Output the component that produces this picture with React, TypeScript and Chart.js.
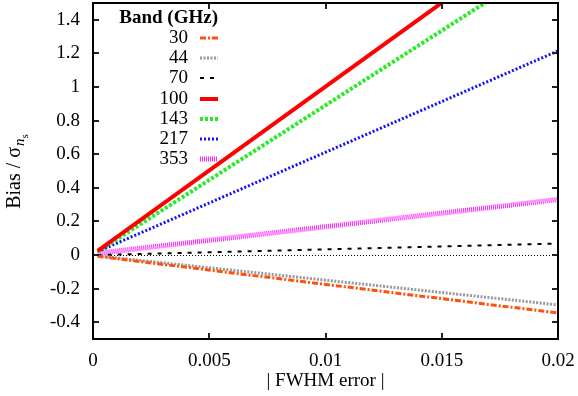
import React, { useEffect, useRef } from "react";
import { Chart, registerables } from "chart.js";
Chart.register(...registerables);

// ---- data ----
const bands = ["30", "44", "70", "100", "143", "217", "353"];
const fwhmError = [0.0002, 0.02];
const bias30 = [-0.008, -0.345];
const bias44 = [-0.005, -0.297];
const bias70 = [0.0, 0.068];
const bias100 = [0.025, 2.0];
const bias143 = [0.02, 1.78];
const bias217 = [0.02, 1.215];
const bias353 = [0.01, 0.33];
const seriesValues = [bias30, bias44, bias70, bias100, bias143, bias217, bias353];
const xTicks = [0, 0.005, 0.01, 0.015, 0.02];
const yTicks = [-0.4, -0.2, 0, 0.2, 0.4, 0.6, 0.8, 1, 1.2, 1.4];
const legendTitle = "Band (GHz)";
const xTitle = "| FWHM error |";

// ---- styles ----
const colors = ["#ff5010", "#999999", "#000000", "#ff0000", "#22ee22", "#1010ff", "#ff20ff"];
const widths = [3, 3, 2, 4, 4, 3, 5];
const dashes: number[][] = [[6, 2, 2, 2], [2, 1.5], [4, 6], [], [3, 2], [2, 2], [1, 1]];

const FONT = '"Liberation Serif", "DejaVu Serif", serif';
const FS = 19;

const decorPlugin = {
  id: "decor",
  beforeDatasetsDraw(chart: any) {
    const { ctx, chartArea: a, scales } = chart;
    const py = Math.round(scales.y.getPixelForValue(0)) + 0.5;
    ctx.save();
    ctx.strokeStyle = "#000";
    ctx.lineWidth = 1;
    ctx.setLineDash([1, 2]);
    ctx.beginPath();
    ctx.moveTo(a.left, py);
    ctx.lineTo(a.right, py);
    ctx.stroke();
    ctx.restore();
  },
  afterDatasetsDraw(chart: any) {
    const { ctx, chartArea: a, scales } = chart;
    const xs = scales.x;
    const ys = scales.y;
    ctx.save();
    // inward ticks on all sides
    ctx.strokeStyle = "#222";
    ctx.lineWidth = 2;
    ctx.setLineDash([]);
    const tl = 6;
    xTicks.forEach((v) => {
      const px = Math.round(xs.getPixelForValue(v));
      ctx.beginPath();
      ctx.moveTo(px, a.bottom);
      ctx.lineTo(px, a.bottom - tl);
      ctx.moveTo(px, a.top);
      ctx.lineTo(px, a.top + tl);
      ctx.stroke();
    });
    yTicks.forEach((v) => {
      const py = Math.round(ys.getPixelForValue(v));
      ctx.beginPath();
      ctx.moveTo(a.left, py);
      ctx.lineTo(a.left + tl, py);
      ctx.moveTo(a.right, py);
      ctx.lineTo(a.right - tl, py);
      ctx.stroke();
    });
    // frame
    ctx.strokeStyle = "#000";
    ctx.lineWidth = 2;
    ctx.strokeRect(a.left, a.top, a.right - a.left, a.bottom - a.top);

    // legend
    ctx.fillStyle = "#000";
    ctx.textBaseline = "middle";
    ctx.font = "bold " + FS + "px " + FONT;
    ctx.textAlign = "right";
    ctx.fillText(legendTitle, 218, 18);
    ctx.font = FS + "px " + FONT;
    chart.data.datasets.forEach((ds: any, i: number) => {
      const yRow = 38 + i * 20.2;
      ctx.fillStyle = "#000";
      ctx.textAlign = "right";
      ctx.fillText(ds.label, 188, yRow);
      ctx.strokeStyle = ds.borderColor;
      ctx.lineWidth = ds.borderWidth;
      ctx.setLineDash(ds.borderDash || []);
      ctx.lineCap = "butt";
      ctx.beginPath();
      ctx.moveTo(200, Math.round(yRow));
      ctx.lineTo(218, Math.round(yRow));
      ctx.stroke();
    });
    ctx.setLineDash([]);

    // x title
    ctx.fillStyle = "#000";
    ctx.font = FS + "px " + FONT;
    ctx.textAlign = "center";
    ctx.textBaseline = "middle";
    ctx.fillText(xTitle, (a.left + a.right) / 2, 381);

    // y title: Bias / σ_{n_s}
    ctx.save();
    ctx.translate(20, 0);
    ctx.rotate(-Math.PI / 2);
    ctx.textAlign = "left";
    ctx.textBaseline = "alphabetic";
    const main = "Bias / σ";
    ctx.font = "20px " + FONT;
    const wMain = ctx.measureText(main).width;
    ctx.font = "italic 15px " + FONT;
    const wN = ctx.measureText("n").width;
    ctx.font = "11px " + FONT;
    const wS = ctx.measureText("s").width;
    const total = wMain + wN + wS;
    const start = -(172 + total / 2); // rotated coordinate: x' = -screenY
    ctx.font = "20px " + FONT;
    ctx.fillText(main, start, 0);
    ctx.font = "italic 15px " + FONT;
    ctx.fillText("n", start + wMain + 1, 4);
    ctx.font = "11px " + FONT;
    ctx.fillText("s", start + wMain + wN + 1, 8);
    ctx.restore();

    ctx.restore();
  },
};

export default function App() {
  const ref = useRef<HTMLCanvasElement | null>(null);
  useEffect(() => {
    document.body.style.margin = "0";
    const canvas = ref.current;
    if (!canvas) return;
    const datasets = bands.map((b, i) => ({
      label: b,
      data: fwhmError.map((x, j) => ({ x, y: seriesValues[i][j] })),
      borderColor: colors[i],
      backgroundColor: colors[i],
      borderWidth: widths[i],
      borderDash: dashes[i],
      borderCapStyle: "butt",
      pointRadius: 0,
      tension: 0,
      fill: false,
    }));
    const chart = new Chart(canvas, {
      type: "line",
      data: { datasets } as any,
      options: {
        responsive: false,
        animation: false,
        devicePixelRatio: 1,
        layout: { padding: { top: 3, right: 20, left: 0, bottom: 0 } },
        plugins: { legend: { display: false }, tooltip: { enabled: false } },
        scales: {
          x: {
            type: "linear",
            min: 0,
            max: 0.02,
            grid: { display: false, drawTicks: false },
            border: { display: false },
            afterBuildTicks: (s: any) => {
              s.ticks = xTicks.map((v) => ({ value: v }));
            },
            afterFit: (s: any) => {
              s.height = 57;
              s.paddingLeft = 0;
              s.paddingRight = 0;
            },
            ticks: {
              color: "#000",
              padding: 11,
              maxRotation: 0,
              autoSkip: false,
              font: { family: FONT, size: FS },
              callback: (v: any) => String(v),
            },
          },
          y: {
            type: "linear",
            min: -0.5,
            max: 1.5,
            grid: { display: false, drawTicks: false },
            border: { display: false },
            afterBuildTicks: (s: any) => {
              s.ticks = yTicks.map((v) => ({ value: v }));
            },
            afterFit: (s: any) => {
              s.width = 93;
              s.paddingTop = 0;
              s.paddingBottom = 0;
            },
            ticks: {
              color: "#000",
              padding: 13,
              autoSkip: false,
              font: { family: FONT, size: FS },
              callback: (v: any) => String(v),
            },
          },
        },
      },
      plugins: [decorPlugin],
    });
    return () => chart.destroy();
  }, []);
  return (
    <div style={{ width: 578, height: 396 }}>
      <canvas ref={ref} width={578} height={396} style={{ display: "block" }} />
    </div>
  );
}
